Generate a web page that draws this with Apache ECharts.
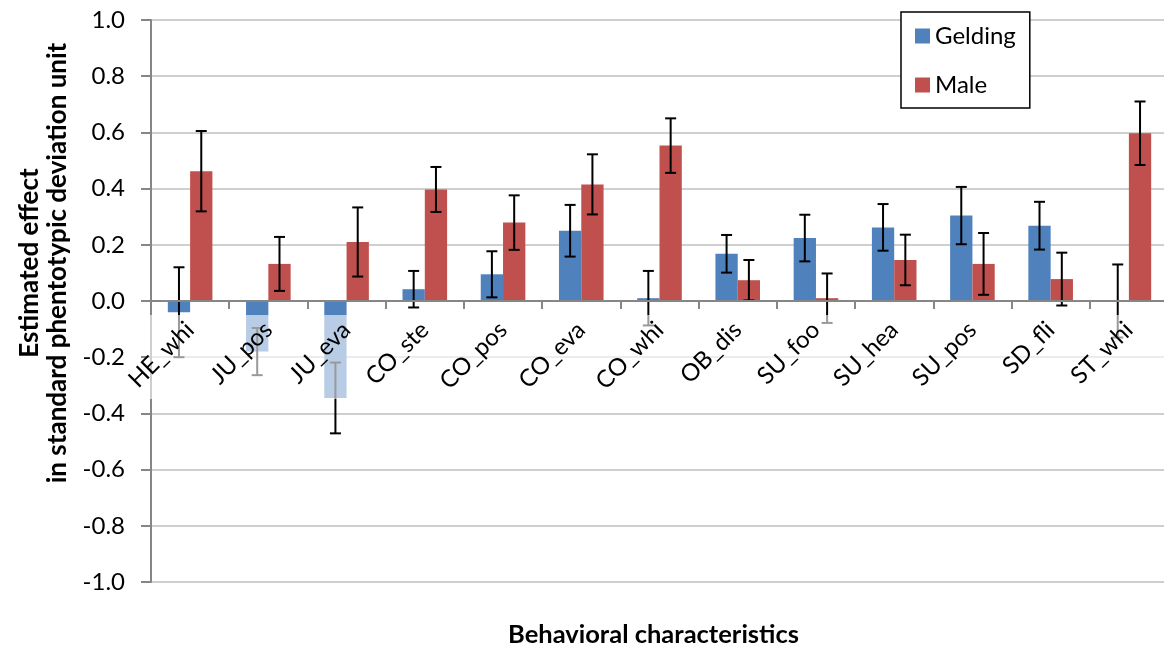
<!DOCTYPE html>
<html>
<head>
<meta charset="utf-8">
<script src="https://cdn.jsdelivr.net/npm/echarts@6/dist/echarts.min.js"></script>
<style>
html,body{margin:0;padding:0;background:#fff;}
#chart{width:1164px;height:646px;}
</style>
</head>
<body>
<div id="chart"></div>
<script>
const categories = ['HE_whi','JU_pos','JU_eva','CO_ste','CO_pos','CO_eva','CO_whi','OB_dis','SU_foo','SU_hea','SU_pos','SD_fli','ST_whi'];
const geldingValues = [-0.04,-0.18,-0.345,0.042,0.095,0.25,0.01,0.168,0.224,0.262,0.304,0.268,0.0];
const geldingErrors = [0.16,0.084,0.126,0.065,0.082,0.092,0.097,0.067,0.083,0.083,0.102,0.085,0.13];
const maleValues = [0.462,0.132,0.21,0.397,0.279,0.415,0.553,0.074,0.01,0.146,0.132,0.078,0.597];
const maleErrors = [0.143,0.096,0.123,0.08,0.097,0.107,0.097,0.072,0.088,0.09,0.11,0.094,0.113];
const yTicks = {min:-1.0, max:1.0, step:0.2};
const seriesNames = ['Gelding','Male'];

const FONT = 'Lato, "Open Sans", sans-serif';
const CAT_GAP = 0.43;
const GRID = {left:151, top:20, width:1017, height:562};
// x axis sits at value 0: shift from the grid bottom up to the zero line
const X_AXIS_OFFSET = -GRID.height * (0 - yTicks.min) / (yTicks.max - yTicks.min);

function errorRenderer(side){
  return function(params, api){
    const i = api.value(0), v = api.value(1), e = api.value(2);
    const c = api.coord([i, v]);
    const bw = api.size([1, 0])[0];
    const barW = bw * (1 - CAT_GAP) / 2;
    const x = c[0] + side * barW / 2;
    const top = api.coord([i, v + e])[1];
    const bot = api.coord([i, v - e])[1];
    const cap = 5.5;
    const st = {stroke:'#000', lineWidth:2};
    return {type:'group', children:[
      {type:'line', shape:{x1:x, y1:top, x2:x, y2:bot}, style:st},
      {type:'line', shape:{x1:x-cap, y1:top, x2:x+cap, y2:top}, style:st},
      {type:'line', shape:{x1:x-cap, y1:bot, x2:x+cap, y2:bot}, style:st}
    ]};
  };
}

const chart = echarts.init(document.getElementById('chart'), null, {renderer:'canvas'});
chart.setOption({
  animation:false,
  backgroundColor:'#fff',
  textStyle:{fontFamily:FONT},
  grid:Object.assign({containLabel:false, outerBoundsMode:'none'}, GRID),
  legend:{
    data:seriesNames, orient:'vertical', left:901, top:12,
    padding:[12,14,11,14], itemGap:25, itemWidth:15, itemHeight:15,
    borderColor:'#000', borderWidth:1.5, backgroundColor:'#fff',
    icon:'rect',
    textStyle:{fontFamily:FONT, fontSize:24, color:'#000'}
  },
  xAxis:{
    type:'category', data:categories, z:60, position:'bottom', offset:X_AXIS_OFFSET,
    axisLine:{onZero:false, lineStyle:{color:'#868686', width:2}},
    axisTick:{show:true, length:8, lineStyle:{color:'#868686', width:2}},
    axisLabel:{interval:0, rotate:45, margin:25, fontFamily:FONT, fontSize:24, color:'#000'},
    splitLine:{show:false},
    name:'Behavioral characteristics', nameLocation:'middle', nameGap:321,
    nameTextStyle:{fontFamily:FONT, fontSize:25.5, fontWeight:'bold', color:'#000', padding:[0,12,0,0]}
  },
  yAxis:{
    type:'value', min:yTicks.min, max:yTicks.max, interval:yTicks.step,
    axisLine:{show:true, lineStyle:{color:'#868686', width:2}},
    axisTick:{show:true, length:10, lineStyle:{color:'#868686', width:2}},
    axisLabel:{fontFamily:FONT, fontSize:24, color:'#000', margin:26, formatter:v=>v.toFixed(1)},
    splitLine:{show:true, lineStyle:{color:'#bfbfbf', width:1.5}},
    name:'Estimated effect\nin standard phentotypic deviation unit',
    nameLocation:'middle', nameGap:78,
    nameTextStyle:{fontFamily:FONT, fontSize:26, fontWeight:'bold', color:'#000', lineHeight:28, padding:[0,0,0,76]}
  },
  graphic:[{
    type:'rect', z:50, silent:true,
    shape:{x:147, y:315, width:1020, height:84},
    style:{fill:'rgba(255,255,255,0.6)'}
  }],
  series:[
    {name:seriesNames[0], type:'bar', data:geldingValues, barGap:'0%', barCategoryGap:(CAT_GAP*100)+'%',
     itemStyle:{color:'#4F81BD'}},
    {name:seriesNames[1], type:'bar', data:maleValues, barGap:'0%', barCategoryGap:(CAT_GAP*100)+'%',
     itemStyle:{color:'#C0504D'}},
    {type:'custom', name:'gErr', renderItem:errorRenderer(-1), z:10,
     data:geldingValues.map((v,i)=>[i, v, geldingErrors[i]])},
    {type:'custom', name:'mErr', renderItem:errorRenderer(1), z:10,
     data:maleValues.map((v,i)=>[i, v, maleErrors[i]])}
  ]
});
</script>
</body>
</html>
